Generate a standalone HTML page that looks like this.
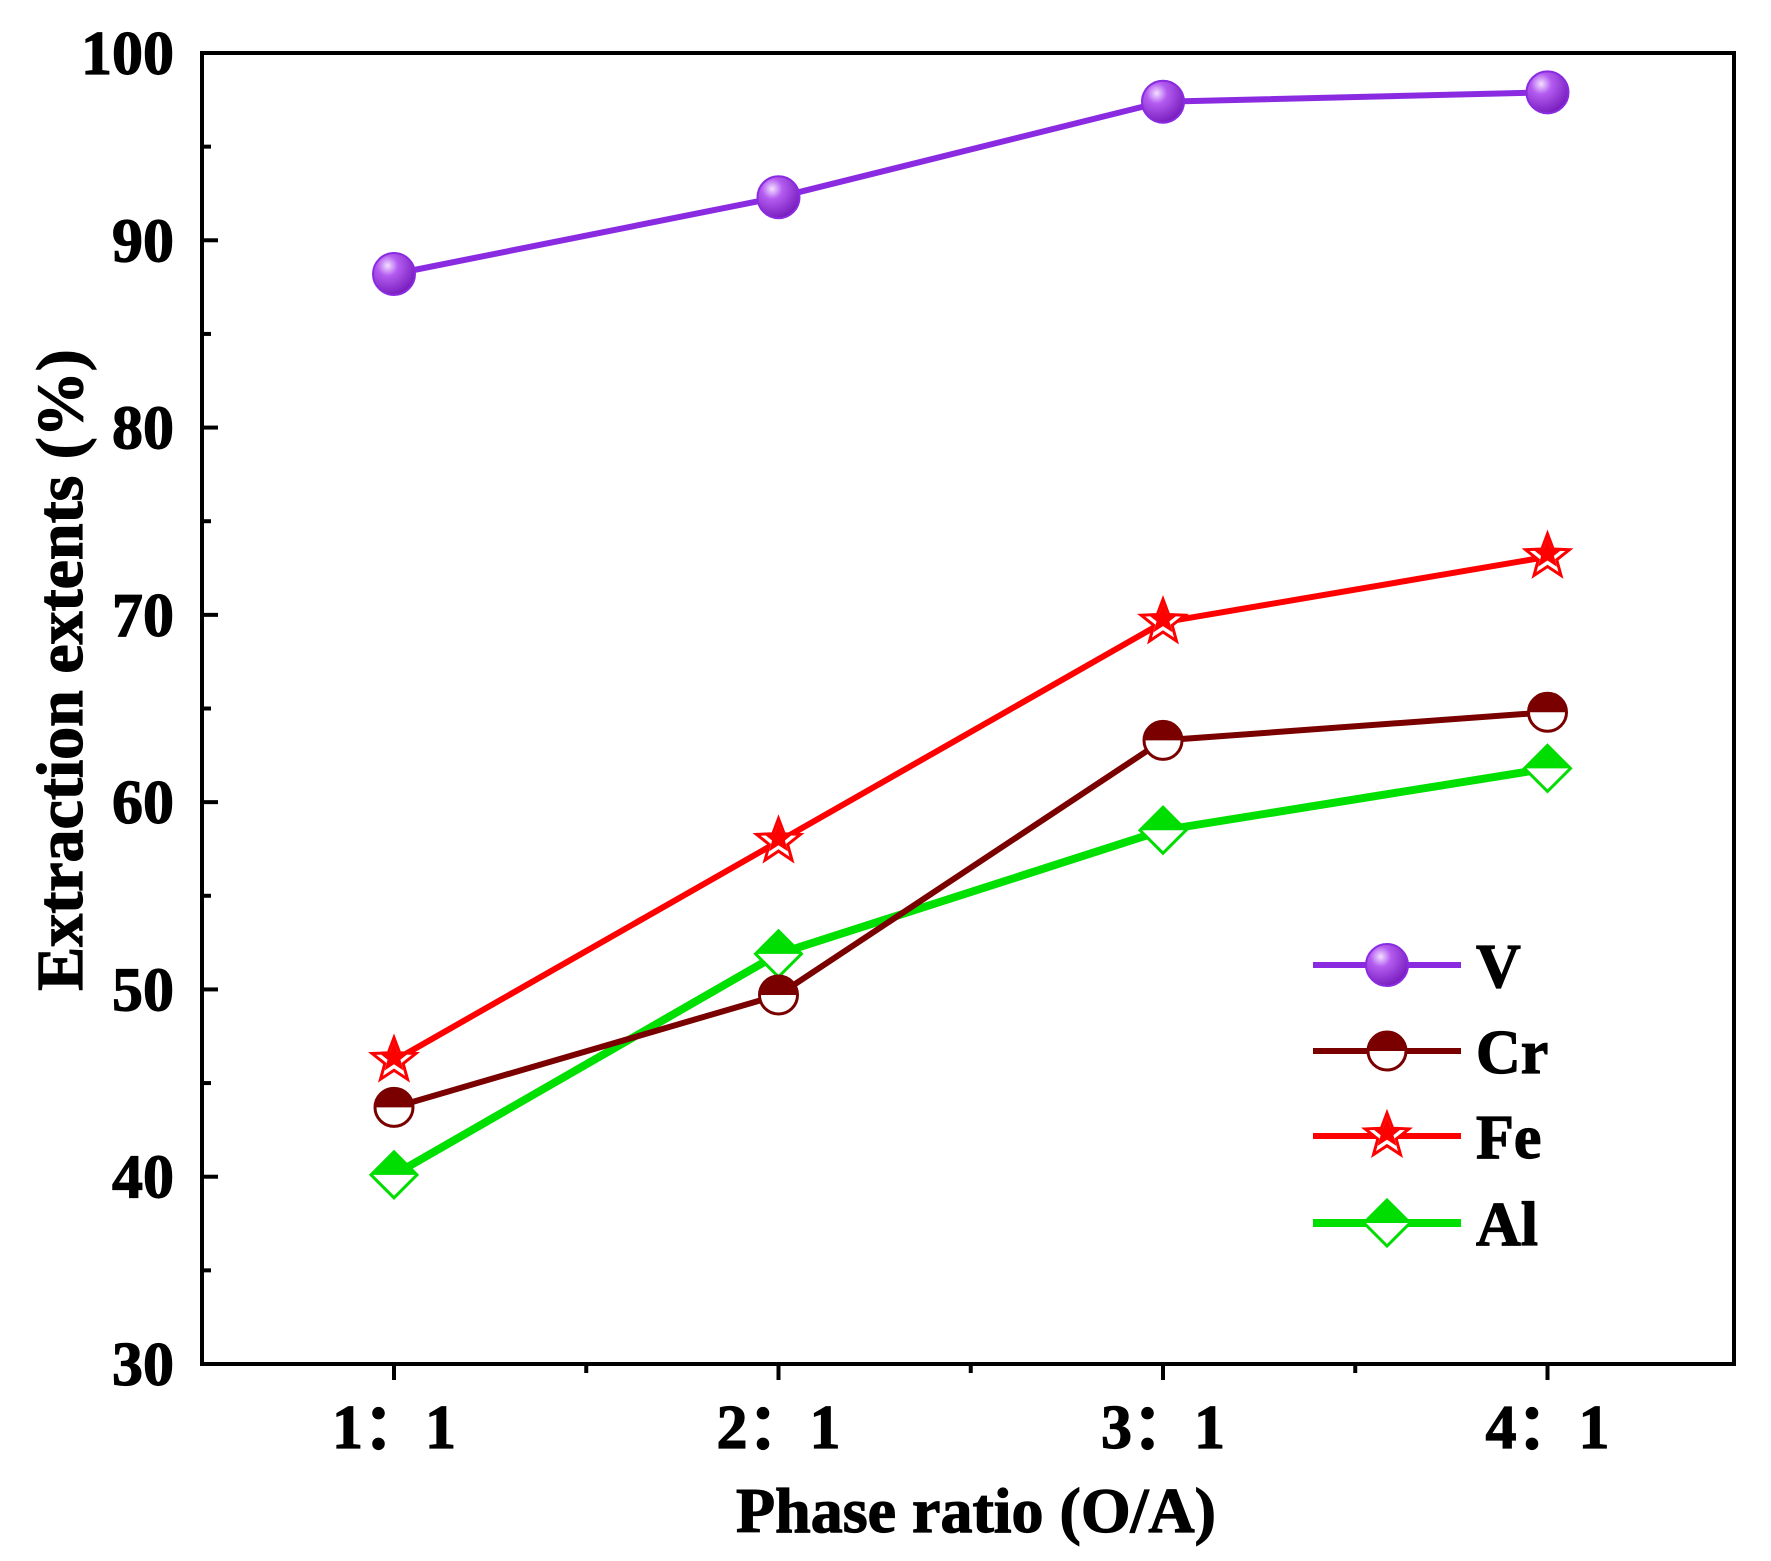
<!DOCTYPE html>
<html><head><meta charset="utf-8"><style>
body{margin:0;background:#fff}
svg{display:block}
text{font-family:"Liberation Serif",serif;font-weight:bold;fill:#000;stroke:#000;stroke-width:1.2}
</style></head><body>
<svg id="chart" width="1771" height="1561" viewBox="0 0 1771 1561">
<defs>
<radialGradient id="vg" cx="0.35" cy="0.3" r="0.7"><stop offset="0" stop-color="#f3e0ff"/><stop offset="0.35" stop-color="#b45cf0"/><stop offset="1" stop-color="#7a20c0"/></radialGradient>
</defs>
<g id="plot"></g>
</svg>
<script>
const categories=["1：1","2：1","3：1","4：1"];
const vVals=[88.2,92.3,97.4,97.9];
const crVals=[43.7,49.7,63.3,64.8];
const feVals=[46.2,57.9,69.6,73.1];
const alVals=[40.1,51.9,58.5,61.8];
const yTicks=[30,40,50,60,70,80,90,100];
const seriesNames=["V","Cr","Fe","Al"];

const L=202,R=1734,T=53,B=1364;
const ymin=30,ymax=100;
function y(v){return B-(v-ymin)/(ymax-ymin)*(B-T);}
function x(i){return 394+i*384.5;}
const NS="http://www.w3.org/2000/svg";
const g=document.getElementById('plot');
function el(t,a,p){const e=document.createElementNS(NS,t);for(const k in a)e.setAttribute(k,a[k]);(p||g).appendChild(e);return e;}

const fr=el('rect',{x:L,y:T,width:R-L,height:B-T,fill:'none',stroke:'#000','stroke-width':4});


for(let v=ymin;v<=ymax;v+=5){
  const major=v%10===0;
  const t=el('line',{x1:L,x2:L+(major?16:9),y1:y(v),y2:y(v),stroke:'#000','stroke-width':4});
  
  
}
yTicks.forEach(v=>{
  const t=el('text',{x:L-28,y:y(v)+21,'text-anchor':'end','font-size':62});
  t.textContent=v;
  
  
});
categories.forEach((c,i)=>{
  const t=el('line',{x1:x(i),x2:x(i),y1:B,y2:B+16,stroke:'#000','stroke-width':4});
  
  
  if(i<categories.length-1){
    const m=el('line',{x1:x(i)+192.25,x2:x(i)+192.25,y1:B,y2:B+9,stroke:'#000','stroke-width':4});
    
    
  }
  const lb=el('text',{x:x(i),y:1448,'text-anchor':'middle','font-size':62});
  lb.textContent=c;
  
  
});
const xt=el('text',{x:976,y:1532,'text-anchor':'middle','font-size':64});
xt.textContent='Phase ratio (O/A)';


const yt=el('text',{x:0,y:0,'text-anchor':'middle','font-size':66,transform:'translate(82,670) rotate(-90)'});
yt.textContent='Extraction extents (%)';



function starPts(cx,cy,r){let p=[];for(let k=0;k<10;k++){const a=-Math.PI/2+k*Math.PI/5;const rr=k%2?r*0.42:r;p.push((cx+rr*Math.cos(a)).toFixed(1)+','+(cy+rr*Math.sin(a)).toFixed(1));}return p.join(' ');}
function marker(kind,cx,cy,parent){
  const mg=el('g',{},parent);
  if(kind==='V'){el('circle',{cx,cy,r:21,fill:'url(#vg)',stroke:'#8a2be2','stroke-width':2},mg);}
  else if(kind==='Cr'){
    el('circle',{cx,cy,r:19,fill:'#fff',stroke:'#7a0000','stroke-width':3},mg);
    el('path',{d:`M${cx-19},${cy} A19,19 0 0 1 ${cx+19},${cy} Z`,fill:'#7a0000'},mg);
  } else if(kind==='Fe'){
    el('polygon',{points:starPts(cx,cy,23),fill:'#fff',stroke:'#ff0000','stroke-width':3},mg);
    el('polygon',{points:starPts(cx,cy-3,16),fill:'#ff0000'},mg);
  } else {
    el('polygon',{points:`${cx},${cy-23} ${cx+23},${cy} ${cx},${cy+23} ${cx-23},${cy}`,fill:'#fff',stroke:'#00dd00','stroke-width':3},mg);
    el('polygon',{points:`${cx},${cy-23} ${cx+23},${cy} ${cx-23},${cy}`,fill:'#00dd00'},mg);
  }
  return mg;
}
const series=[
 {name:'V',vals:vVals,color:'#8a2be2',w:6},
 {name:'Cr',vals:crVals,color:'#7a0000',w:6},
 {name:'Fe',vals:feVals,color:'#ff0000',w:6},
 {name:'Al',vals:alVals,color:'#00e000',w:8}
];
[3,1,2,0].forEach(si=>{
  const s=series[si];
  const sg=el('g',{});
  
  
  const pl=el('polyline',{points:s.vals.map((v,i)=>x(i)+','+y(v)).join(' '),fill:'none',stroke:s.color,'stroke-width':s.w},sg);
  
  
  s.vals.forEach((v,i)=>{
    const m=marker(s.name,x(i),y(v),sg);
    
    
  });
});
const lg=el('g',{});


const ly=[965,1051,1136,1223];
series.forEach((s,i)=>{
  const eg=el('g',{},lg);
  
  
  el('line',{x1:1313,x2:1461,y1:ly[i],y2:ly[i],stroke:s.color,'stroke-width':s.w},eg);
  marker(s.name,1387,ly[i],eg);
  const t=el('text',{x:1476,y:ly[i]+22,'font-size':62},eg);
  t.textContent=seriesNames[i];
});
</script>
</body></html>
